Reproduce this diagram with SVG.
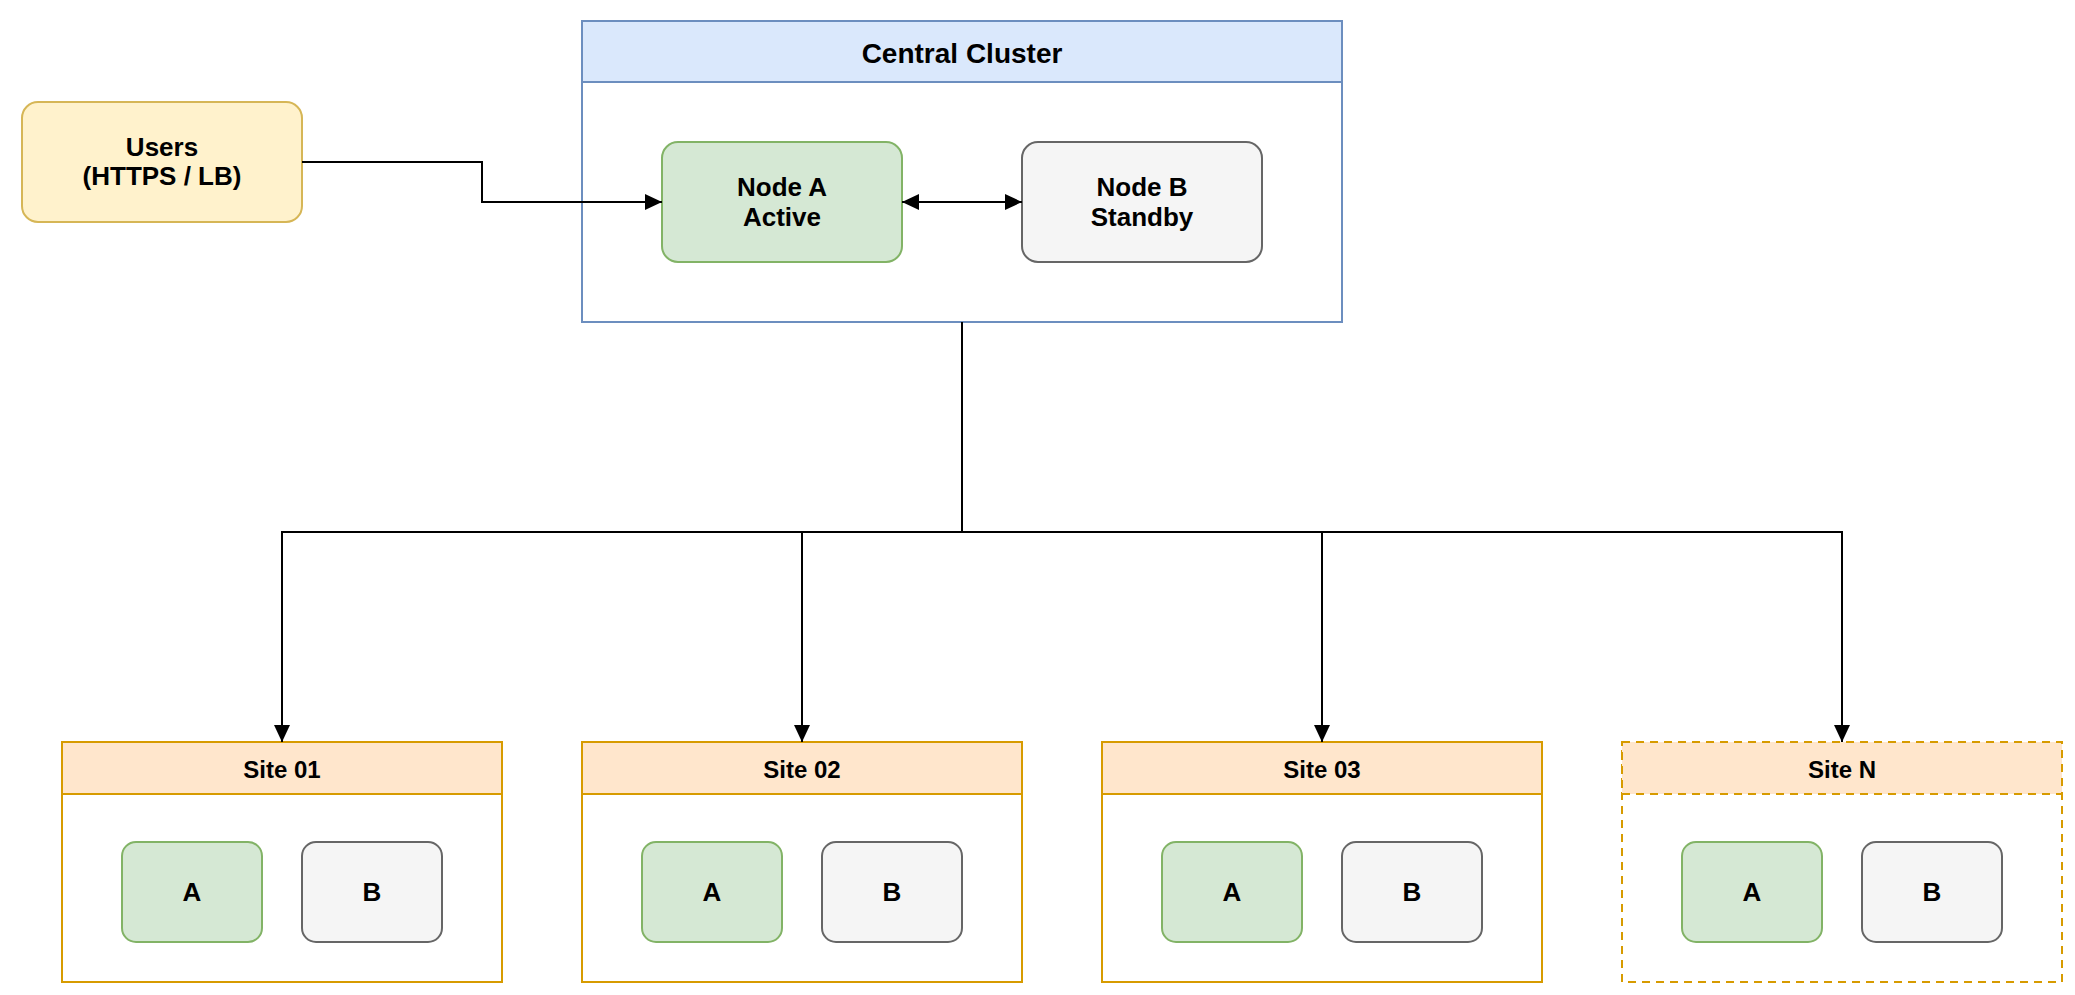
<svg xmlns="http://www.w3.org/2000/svg" width="2075" height="995" viewBox="0 0 2075 995">
<defs>
<marker id="arr" viewBox="0 0 17 16" refX="17" refY="8" markerWidth="17" markerHeight="16" markerUnits="userSpaceOnUse" orient="auto-start-reverse">
<path d="M0,0 L17,8 L0,16 Z" fill="#000"/>
</marker>
<style>
text{font-family:"Liberation Sans",Arial,Helvetica,sans-serif;font-weight:bold;fill:#000;text-anchor:middle;dominant-baseline:central}
.users{fill:#fff2cc;stroke:#d6b656;stroke-width:2}
.chead{fill:#dae8fc;stroke:#6c8ebf;stroke-width:2}
.cbody{fill:#fff;stroke:#6c8ebf;stroke-width:2}
.green{fill:#d5e8d4;stroke:#82b366;stroke-width:2}
.gray{fill:#f5f5f5;stroke:#666;stroke-width:2}
.shead{fill:#ffe6cc;stroke:#d79b00;stroke-width:2}
.sbody{fill:#fff;stroke:#d79b00;stroke-width:2}
.dash{stroke-dasharray:8 6}
.edge{fill:none;stroke:#000;stroke-width:2}
.t26{font-size:26px}
.t28{font-size:28px}
.t24{font-size:24px}
.ab{font-size:26px}
</style>
</defs>
<rect width="2075" height="995" fill="#fff"/>

<g id="users">
<rect class="users" x="22" y="102" width="280" height="120" rx="16"/>
<text class="t26" x="162" y="147">Users</text>
<text class="t26" x="162" y="176">(HTTPS / LB)</text>
</g>

<g id="central-cluster">
<rect class="cbody" x="582" y="21" width="760" height="301"/>
<rect class="chead" x="582" y="21" width="760" height="61"/>
<text class="t28" x="962" y="53">Central Cluster</text>
</g>

<g id="node-a">
<rect class="green" x="662" y="142" width="240" height="120" rx="16"/>
<text class="t26" x="782" y="187">Node A</text>
<text class="t26" x="782" y="217">Active</text>
</g>

<g id="node-b">
<rect class="gray" x="1022" y="142" width="240" height="120" rx="16"/>
<text class="t26" x="1142" y="187">Node B</text>
<text class="t26" x="1142" y="217">Standby</text>
</g>

<g id="site-01">
<rect class="sbody" x="62" y="742" width="440" height="240"/>
<rect class="shead" x="62" y="742" width="440" height="52"/>
<text class="t24" x="282" y="769">Site 01</text>
<rect class="green" x="122" y="842" width="140" height="100" rx="14"/>
<text class="ab" x="192" y="892">A</text>
<rect class="gray" x="302" y="842" width="140" height="100" rx="14"/>
<text class="ab" x="372" y="892">B</text>
</g>

<g id="site-02">
<rect class="sbody" x="582" y="742" width="440" height="240"/>
<rect class="shead" x="582" y="742" width="440" height="52"/>
<text class="t24" x="802" y="769">Site 02</text>
<rect class="green" x="642" y="842" width="140" height="100" rx="14"/>
<text class="ab" x="712" y="892">A</text>
<rect class="gray" x="822" y="842" width="140" height="100" rx="14"/>
<text class="ab" x="892" y="892">B</text>
</g>

<g id="site-03">
<rect class="sbody" x="1102" y="742" width="440" height="240"/>
<rect class="shead" x="1102" y="742" width="440" height="52"/>
<text class="t24" x="1322" y="769">Site 03</text>
<rect class="green" x="1162" y="842" width="140" height="100" rx="14"/>
<text class="ab" x="1232" y="892">A</text>
<rect class="gray" x="1342" y="842" width="140" height="100" rx="14"/>
<text class="ab" x="1412" y="892">B</text>
</g>

<g id="site-n">
<rect class="sbody dash" x="1622" y="742" width="440" height="240"/>
<rect class="shead dash" x="1622" y="742" width="440" height="52"/>
<text class="t24" x="1842" y="769">Site N</text>
<rect class="green" x="1682" y="842" width="140" height="100" rx="14"/>
<text class="ab" x="1752" y="892">A</text>
<rect class="gray" x="1862" y="842" width="140" height="100" rx="14"/>
<text class="ab" x="1932" y="892">B</text>
</g>

<g id="connectors">
<path class="edge" d="M302,162 H482 V202 H662" marker-end="url(#arr)"/>
<path class="edge" d="M902,202 H1022" marker-start="url(#arr)" marker-end="url(#arr)"/>
<path class="edge" d="M962,322 V532 H282 V742" marker-end="url(#arr)"/>
<path class="edge" d="M962,532 H802 V742" marker-end="url(#arr)"/>
<path class="edge" d="M962,532 H1322 V742" marker-end="url(#arr)"/>
<path class="edge" d="M962,532 H1842 V742" marker-end="url(#arr)"/>
</g>
</svg>
